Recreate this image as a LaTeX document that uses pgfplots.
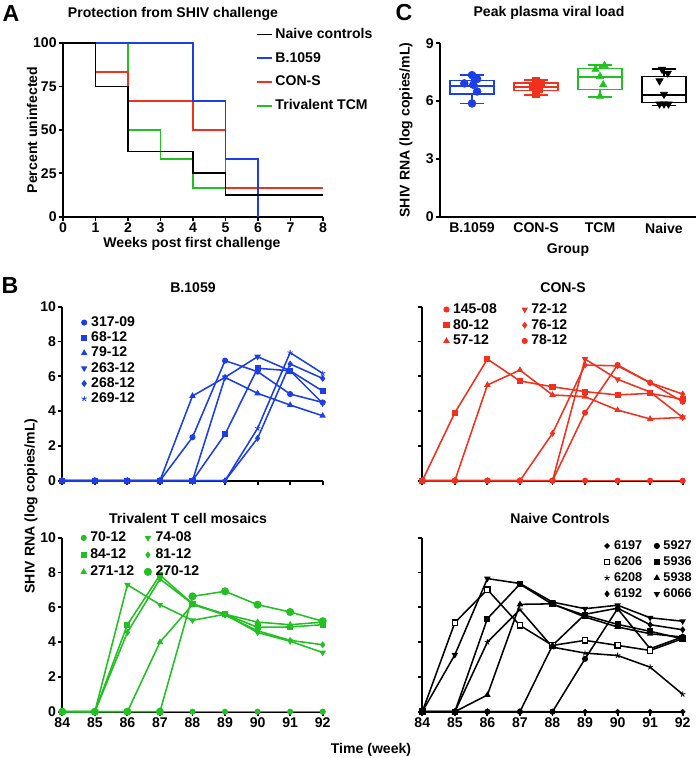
\documentclass[border=0pt]{standalone}
\usepackage{fontspec}
\setmainfont{Liberation Sans}
\usepackage{pgfplots}
\pgfplotsset{compat=1.18}
\usetikzlibrary{plotmarks}

\definecolor{pblue}{RGB}{28,62,230}
\definecolor{pred}{RGB}{242,48,30}
\definecolor{pgreen}{RGB}{34,192,34}

\newcommand{\lab}{\fontsize{10}{12}\selectfont\bfseries}
\newcommand{\smlab}{\fontsize{9}{11}\selectfont\bfseries}
\newcommand{\panel}{\fontsize{16.5}{18}\selectfont\bfseries}

\pgfplotsset{
  prism/.style={
    scale only axis, clip=false,
    axis lines*=left,
    axis line style={line width=1.3pt},
    tick align=outside,
    major tick length=0.1cm,
    tick style={line width=1.3pt, black},
    ticklabel style={font=\lab, inner sep=1.5pt},
    /pgf/number format/assume math mode=true,
    legend cell align=left,
  },
  tc/.style={line width=1.1pt, mark size=1.6pt, mark options={solid}},
  bx/.style={line width=1.2pt, line cap=rect, mark=none},
  mk/.style={legend image code/.code={\draw[##1, only marks] plot coordinates {(0cm,0cm)};}},
  bpanel/.style={prism, mk, width=6.51cm, height=4.35cm, anchor=south west,
    xmin=84, xmax=92, ymin=0, ymax=10, xtick={84,...,92}, ytick={0,2,...,10}},
}

\begin{document}
\begin{tikzpicture}
\path[use as bounding box] (0,0) rectangle (17.5,-18.95);

% ---------- A: protection ----------
\begin{axis}[prism, at={(1.575cm,-5.4175cm)}, anchor=south west, width=6.5cm, height=4.3425cm,
  xmin=0, xmax=8, ymin=0, ymax=100, xtick={0,...,8}, ytick={0,25,50,75,100},
  reverse legend,
  legend style={at={(0.725,1.106)}, anchor=north west, draw=none, fill=none, font=\lab,
    row sep=7.3pt, column sep=1.5pt, nodes={inner sep=0.5pt}},
  legend image code/.code={\draw[#1] (0cm,0cm) -- (0.375cm,0cm);}]
\addplot[pgreen, line width=1.2pt, const plot] coordinates {(0,100)(2,50)(3,33.33)(4,16.67)(8,16.67)};
\addlegendentry{Trivalent TCM}
\addplot[pred, line width=1.2pt, const plot] coordinates {(0,100)(1,83.33)(2,66.67)(4,50)(5,16.67)(8,16.67)};
\addlegendentry{CON-S}
\addplot[pblue, line width=1.2pt, const plot] coordinates {(0,100)(4,66.67)(5,33.33)(6,0)};
\addlegendentry{B.1059}
\addplot[black, line width=1.2pt, const plot] coordinates {(0,100)(1,75)(2,37.5)(4,25)(5,12.5)(8,12.5)};
\addlegendentry{Naive controls}
\end{axis}

% ---------- C: peak viral load (box = whisker, quartiles, median) ----------
\begin{axis}[prism, at={(11.0cm,-5.4175cm)}, anchor=south west, width=6.4cm, height=4.335cm,
  xmin=0.5, xmax=4.5, ymin=0, ymax=9, xtick={1,2,3,4}, xticklabels={B.1059,CON-S,TCM,Naive},
  ytick={0,3,6,9}, xtick style={draw=none}, unbounded coords=jump]
\addplot[pblue, bx] coordinates {(0.66,6.38)(1.34,6.38)(1.34,7.07)(0.66,7.07)(0.66,6.38) (1,nan)
  (0.66,6.78)(1.34,6.78) (1,nan) (1,7.07)(1,7.35) (1,nan) (0.82,7.35)(1.18,7.35) (1,nan)
  (1,6.38)(1,5.88) (1,nan) (0.82,5.88)(1.18,5.88)};
\addplot[pred, bx] coordinates {(1.66,6.55)(2.34,6.55)(2.34,6.95)(1.66,6.95)(1.66,6.55) (2,nan)
  (1.66,6.74)(2.34,6.74) (2,nan) (2,6.95)(2,7.1) (2,nan) (1.82,7.1)(2.18,7.1) (2,nan)
  (2,6.55)(2,6.3) (2,nan) (1.82,6.3)(2.18,6.3)};
\addplot[pgreen, bx] coordinates {(2.66,6.6)(3.34,6.6)(3.34,7.7)(2.66,7.7)(2.66,6.6) (3,nan)
  (2.66,7.25)(3.34,7.25) (3,nan) (3,7.7)(3,7.88) (3,nan) (2.82,7.88)(3.18,7.88) (3,nan)
  (3,6.6)(3,6.22) (3,nan) (2.82,6.22)(3.18,6.22)};
\addplot[black, bx] coordinates {(3.66,5.93)(4.34,5.93)(4.34,7.28)(3.66,7.28)(3.66,5.93) (4,nan)
  (3.66,6.32)(4.34,6.32) (4,nan) (4,7.28)(4,7.65) (4,nan) (3.82,7.65)(4.18,7.65) (4,nan)
  (4,5.93)(4,5.78) (4,nan) (3.82,5.78)(4.18,5.78)};
\addplot[only marks, pblue, mark=*, mark size=2.8pt] coordinates
  {(1.0,7.35)(1.08,7.15)(0.88,6.92)(1.02,6.85)(1.08,6.5)(1.0,5.88)};
\addplot[only marks, pred, mark=square*, mark size=2.4pt] coordinates
  {(2.0,7.05)(2.07,6.95)(1.95,6.75)(2.05,6.65)(2.0,6.35)};
\addplot[only marks, pgreen, mark=triangle*, mark size=3pt] coordinates
  {(3.07,7.85)(2.93,7.65)(3.0,7.28)(3.05,6.85)(3.0,6.25)};
\addplot[only marks, black, mark=triangle*, mark size=3pt, mark options={rotate=180}] coordinates
  {(3.97,7.65)(4.06,7.45)(3.93,7.05)(4.0,6.35)(3.93,5.85)(4.0,5.85)(4.07,5.85)};
\end{axis}

% ---------- B: B.1059 ----------
\begin{axis}[bpanel, at={(1.5575cm,-12.0175cm)}, xticklabels={},
  legend style={at={(0.0565,0.965)}, anchor=north west, draw=none, fill=none, font=\lab,
    row sep=1.35pt, column sep=2.6pt, nodes={inner sep=0.5pt}}]
\addplot[pblue, tc, mark=*] coordinates {(84,0)(85,0)(86,0)(87,0)(88,2.5)(89,6.9)(90,6.27)(91,4.98)(92,4.5)};
\addlegendentry{317-09}
\addplot[pblue, tc, mark=square*] coordinates {(84,0)(85,0)(86,0)(87,0)(88,0)(89,2.67)(90,6.46)(91,6.32)(92,5.15)};
\addlegendentry{68-12}
\addplot[pblue, tc, mark=triangle*] coordinates {(84,0)(85,0)(86,0)(87,0)(88,4.87)(89,5.94)(90,5.02)(91,4.35)(92,3.73)};
\addlegendentry{79-12}
\addplot[pblue, tc, mark=triangle*, mark options={solid,rotate=180}] coordinates {(84,0)(85,0)(86,0)(87,0)(88,0)(89,5.94)(90,7.13)(91,6.32)(92,4.45)};
\addlegendentry{263-12}
\addplot[pblue, tc, mark=diamond*] coordinates {(84,0)(85,0)(86,0)(87,0)(88,0)(89,0)(90,2.44)(91,6.71)(92,5.88)};
\addlegendentry{268-12}
\addplot[pblue, tc, mark=star, mark options={solid, line width=0.6pt}, mark size=2pt] coordinates {(84,0)(85,0)(86,0)(87,0)(88,0)(89,0)(90,3.01)(91,7.36)(92,6.17)};
\addlegendentry{269-12}
\end{axis}

% ---------- B: CON-S ----------
\begin{axis}[bpanel, at={(10.5575cm,-12.0175cm)}, xticklabels={}, yticklabels={},
  legend columns=2,
  legend style={at={(0.067,1.04)}, anchor=north west, draw=none, fill=none, font=\lab,
    row sep=1.7pt, column sep=2.6pt, nodes={inner sep=0.5pt},
    /tikz/every even column/.append style={column sep=17.7pt}}]
\addplot[pred, tc, mark=*] coordinates {(84,0)(85,0)(86,0)(87,0)(88,0)(89,0)(90,0)(91,0)(92,0)};
\addlegendentry{145-08}
\addplot[pred, tc, mark=triangle*, mark options={solid,rotate=180}] coordinates {(84,0)(85,0)(86,0)(87,0)(88,0)(89,6.99)(90,5.83)(91,5.1)(92,3.64)};
\addlegendentry{72-12}
\addplot[pred, tc, mark=square*] coordinates {(84,0)(85,3.91)(86,6.99)(87,5.73)(88,5.4)(89,5.12)(90,4.93)(91,5.02)(92,4.68)};
\addlegendentry{80-12}
\addplot[pred, tc, mark=diamond*] coordinates {(84,0)(85,0)(86,0)(87,0)(88,2.72)(89,6.65)(90,6.6)(91,5.63)(92,4.98)};
\addlegendentry{76-12}
\addplot[pred, tc, mark=triangle*] coordinates {(84,0)(85,0)(86,5.5)(87,6.36)(88,4.93)(89,4.83)(90,4.06)(91,3.55)(92,3.64)};
\addlegendentry{57-12}
\addplot[pred, tc, mark=*] coordinates {(84,0)(85,0)(86,0)(87,0)(88,0)(89,3.91)(90,6.65)(91,5.63)(92,4.54)};
\addlegendentry{78-12}
\end{axis}

% ---------- B: Trivalent ----------
\begin{axis}[bpanel, at={(1.5575cm,-17.7925cm)},
  legend columns=2,
  legend style={at={(0.0565,1.055)}, anchor=north west, draw=none, fill=none, font=\lab,
    row sep=2.6pt, column sep=2.6pt, nodes={inner sep=0.5pt},
    /tikz/every even column/.append style={column sep=7pt}}]
\addplot[pgreen, tc, mark=*] coordinates {(84,0)(85,0)(86,0)(87,0)(88,0)(89,0)(90,0)(91,0)(92,0)};
\addlegendentry{70-12}
\addplot[pgreen, tc, mark=triangle*, mark options={solid,rotate=180}] coordinates {(84,0)(85,0)(86,7.3)(87,6.15)(88,5.25)(89,5.6)(90,4.55)(91,4.05)(92,3.4)};
\addlegendentry{74-08}
\addplot[pgreen, tc, mark=square*] coordinates {(84,0)(85,0)(86,5.0)(87,7.85)(88,6.2)(89,5.6)(90,4.85)(91,4.87)(92,5.0)};
\addlegendentry{84-12}
\addplot[pgreen, tc, mark=diamond*] coordinates {(84,0)(85,0)(86,4.56)(87,7.63)(88,6.2)(89,5.55)(90,4.65)(91,4.1)(92,3.85)};
\addlegendentry{81-12}
\addplot[pgreen, tc, mark=triangle*] coordinates {(84,0)(85,0)(86,0)(87,4.0)(88,6.15)(89,5.6)(90,5.15)(91,5.0)(92,5.15)};
\addlegendentry{271-12}
\addplot[pgreen, tc, mark=*, mark size=2.3pt] coordinates {(84,0)(85,0)(86,0)(87,0)(88,6.63)(89,6.92)(90,6.15)(91,5.73)(92,5.2)};
\addlegendentry{270-12}
\end{axis}

% ---------- B: Naive ----------
\begin{axis}[bpanel, at={(10.5575cm,-17.7925cm)}, yticklabels={},
  legend columns=2,
  legend style={at={(0.682,1.006)}, anchor=north west, draw=none, fill=none, font=\smlab,
    row sep=2.6pt, column sep=2.6pt, nodes={inner sep=0.5pt},
    /tikz/every even column/.append style={column sep=8.3pt}}]
\addplot[black, tc, mark=*, mark size=1.3pt] coordinates {(84,0)(85,0)(86,0)(87,0)(88,0)(89,0)(90,0)(91,0)(92,0)};
\addlegendentry{6197}
\addplot[black, tc, mark=*] coordinates {(84,0)(85,0)(86,0)(87,0)(88,0)(89,3.04)(90,5.92)(91,3.62)(92,4.3)};
\addlegendentry{5927}
\addplot[black, tc, mark=square*, mark size=1.9pt, mark options={solid, fill=white, line width=0.9pt}] coordinates {(84,0)(85,5.12)(86,7.02)(87,4.96)(88,3.81)(89,4.1)(90,3.81)(91,3.52)(92,4.2)};
\addlegendentry{6206}
\addplot[black, tc, mark=square*] coordinates {(84,0)(85,0)(86,5.35)(87,7.33)(88,6.17)(89,5.54)(90,5.02)(91,4.62)(92,4.19)};
\addlegendentry{5936}
\addplot[black, tc, mark=star, mark size=2pt, mark options={solid, line width=0.6pt}] coordinates {(84,0)(85,0)(86,4.0)(87,5.87)(88,3.71)(89,3.37)(90,3.23)(91,2.56)(92,1.0)};
\addlegendentry{6208}
\addplot[black, tc, mark=triangle*] coordinates {(84,0)(85,0)(86,0.96)(87,6.17)(88,6.2)(89,5.44)(90,4.87)(91,4.48)(92,4.29)};
\addlegendentry{5938}
\addplot[black, tc, mark=diamond*] coordinates {(84,0)(85,0)(86,0)(87,0)(88,3.81)(89,5.6)(90,5.95)(91,5.0)(92,4.71)};
\addlegendentry{6192}
\addplot[black, tc, mark=triangle*, mark options={solid,rotate=180}] coordinates {(84,0)(85,3.27)(86,7.65)(87,7.37)(88,6.3)(89,5.92)(90,6.12)(91,5.4)(92,5.2)};
\addlegendentry{6066}
\end{axis}

% ---------- text ----------
\node[font=\panel] at (0.275,-0.3375) {A};
\node[font=\lab] at (4.325,-0.35) {Protection from SHIV challenge};
\node[font=\lab, rotate=90] at (0.8,-3.25) {Percent uninfected};
\node[font=\lab] at (4.8,-6.1) {Weeks post first challenge};

\node[font=\panel] at (10.1,-0.325) {C};
\node[font=\lab] at (13.725,-0.325) {Peak plasma viral load};
\node[font=\lab, rotate=90] at (10.15,-3.25) {SHIV RNA (log copies/mL)};
\node[font=\lab] at (14.2,-6.25) {Group};

\node[font=\panel] at (0.25,-7.15) {B};
\node[font=\lab] at (4.825,-7.2) {B.1059};
\node[font=\lab] at (14.075,-7.2) {CON-S};
\node[font=\lab] at (4.7,-12.95) {Trivalent T cell mosaics};
\node[font=\lab] at (14.0,-12.95) {Naive Controls};
\node[font=\lab, rotate=90] at (0.775,-12.65) {SHIV RNA (log copies/mL)};
\node[font=\lab] at (9.275,-18.75) {Time (week)};
\end{tikzpicture}
\end{document}
